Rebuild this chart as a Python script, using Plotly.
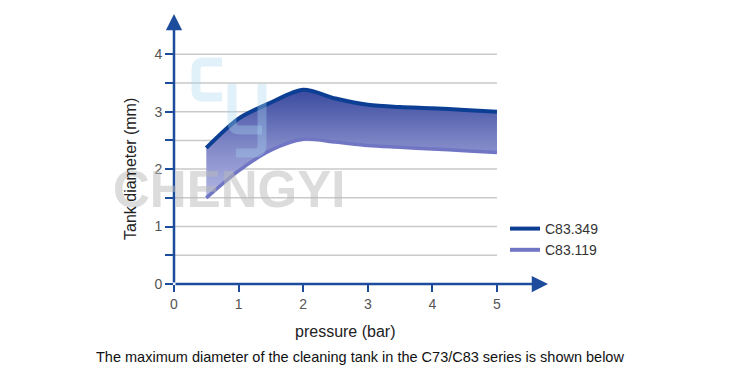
import plotly.graph_objects as go

pressure = [0.5, 1.0, 1.5, 2.0, 2.5, 3.0, 3.5, 4.0, 4.5, 5.0]
c83_349 = [2.37, 2.88, 3.16, 3.38, 3.23, 3.12, 3.08, 3.06, 3.03, 3.00]
c83_119 = [1.50, 1.97, 2.33, 2.52, 2.47, 2.41, 2.38, 2.35, 2.32, 2.29]
x_ticks = [0, 1, 2, 3, 4, 5]
y_ticks = [0, 1, 2, 3, 4]
grid_levels = [0.5, 1.0, 1.5, 2.0, 2.5, 3.0, 3.5, 4.0]

AXIS = "#1e4c9c"
TOP = "#0c3f94"
BOT = "#7176c4"

X0, X1 = 0, 5.79
Y0, Y1 = 0, 4.7
L, R, T, B = 174, 202, 14, 91
W, H = 750, 375
pw = W - L - R
ph = H - T - B

def dx(px):
    return X0 + (px - L) / pw * (X1 - X0)

def dy(py):
    return Y0 + (H - B - py) / ph * (Y1 - Y0)

def px_(px):
    return (px - L) / pw

def py_(py):
    return (H - B - py) / ph

fig = go.Figure()

fig.add_trace(go.Scatter(
    x=pressure, y=c83_119, mode="lines", name="C83.119",
    line=dict(color=BOT, width=3.5, shape="spline", smoothing=0.8),
    showlegend=False,
))
fig.add_trace(go.Scatter(
    x=pressure, y=c83_349, mode="lines", name="C83.349",
    line=dict(color=TOP, width=4, shape="spline", smoothing=0.8),
    fill="tonexty",
    fillgradient=dict(type="vertical",
                      colorscale=[[0, "#b4b8e4"], [0.5, "#7e86c6"], [1, "#3a4a9e"]]),
    showlegend=False,
))
# legend entries
fig.add_trace(go.Scatter(x=[None], y=[None], mode="lines", name="C83.349",
                         line=dict(color=TOP, width=4)))
fig.add_trace(go.Scatter(x=[None], y=[None], mode="lines", name="C83.119",
                         line=dict(color=BOT, width=4)))

shapes = []
for g in grid_levels:
    shapes.append(dict(type="line", xref="x", yref="y", x0=0, x1=5, y0=g, y1=g,
                       line=dict(color="#c9c9c9", width=1.5), layer="below"))

# watermark logo (decorative)
logo_col = "rgba(170,215,242,0.35)"
shapes.append(dict(type="path", xref="x", yref="y", layer="above",
                   path=f"M {dx(222)},{dy(62)} L {dx(203)},{dy(62)} Q {dx(196)},{dy(62)} {dx(196)},{dy(70)} "
                        f"L {dx(196)},{dy(90)} Q {dx(196)},{dy(97)} {dx(203)},{dy(97)} L {dx(222)},{dy(97)}",
                   line=dict(color=logo_col, width=9)))
shapes.append(dict(type="path", xref="x", yref="y", layer="above",
                   path=f"M {dx(232)},{dy(84)} L {dx(232)},{dy(122)} Q {dx(232)},{dy(130)} {dx(240)},{dy(130)} "
                        f"L {dx(262)},{dy(130)}",
                   line=dict(color=logo_col, width=9)))
shapes.append(dict(type="path", xref="x", yref="y", layer="above",
                   path=f"M {dx(262)},{dy(84)} L {dx(262)},{dy(145)} Q {dx(262)},{dy(153)} {dx(254)},{dy(153)} "
                        f"L {dx(236)},{dy(153)}",
                   line=dict(color=logo_col, width=9)))

FONT = "Liberation Sans, Arial"
annotations = [
    dict(x=X1, y=0, ax=0, ay=0, xref="x", yref="y", axref="x", ayref="y", text="",
         showarrow=True, arrowhead=2, arrowsize=1.3, arrowwidth=2.5, arrowcolor=AXIS, standoff=0),
    dict(x=0, y=Y1, ax=0, ay=0, xref="x", yref="y", axref="x", ayref="y", text="",
         showarrow=True, arrowhead=2, arrowsize=1.3, arrowwidth=2.5, arrowcolor=AXIS, standoff=0),
    dict(x=px_(229), y=py_(189), xref="paper", yref="paper", text="<b>CHENGYI</b>", showarrow=False,
         xanchor="center", yanchor="middle",
         font=dict(family=FONT, size=51, color="rgba(185,185,185,0.5)")),
    dict(x=px_(130), y=py_(169), xref="paper", yref="paper", text="Tank diameter (mm)", showarrow=False,
         xanchor="center", yanchor="middle",
         textangle=-90, font=dict(family=FONT, size=16, color="#222")),
    dict(x=px_(345), y=py_(331), xref="paper", yref="paper", text="pressure (bar)", showarrow=False,
         xanchor="center", yanchor="middle",
         font=dict(family=FONT, size=16, color="#222")),
    dict(x=px_(360), y=py_(357), xref="paper", yref="paper",
         text="The maximum diameter of the cleaning tank in the C73/C83 series is shown below",
         xanchor="center", yanchor="middle",
         showarrow=False, font=dict(family=FONT, size=14.5, color="#111")),
]

fig.update_layout(
    width=W, height=H, margin=dict(l=L, r=R, t=T, b=B),
    paper_bgcolor="white", plot_bgcolor="white",
    showlegend=True,
    legend=dict(x=px_(505), y=py_(213), xanchor="left", yanchor="top", traceorder="normal",
                font=dict(family=FONT, size=14, color="#333"),
                bgcolor="rgba(0,0,0,0)", itemwidth=30, tracegroupgap=0),
    shapes=shapes, annotations=annotations,
    font=dict(family=FONT),
)
fig.update_xaxes(range=[X0, X1], tickvals=x_ticks, ticktext=[str(v) for v in x_ticks],
                 showgrid=False, zeroline=False, showline=False,
                 ticks="outside", ticklen=7, tickwidth=2, tickcolor=AXIS,
                 tickfont=dict(size=14, color="#555"))
fig.update_yaxes(range=[Y0, Y1], tickvals=y_ticks, ticktext=[str(v) for v in y_ticks],
                 showgrid=False, zeroline=False, showline=False,
                 ticks="outside", ticklen=8, tickwidth=2, tickcolor=AXIS,
                 minor=dict(tickvals=grid_levels, ticks="outside", ticklen=8, tickwidth=2, tickcolor=AXIS),
                 tickfont=dict(size=14, color="#555"))

fig.write_html("out.html")
